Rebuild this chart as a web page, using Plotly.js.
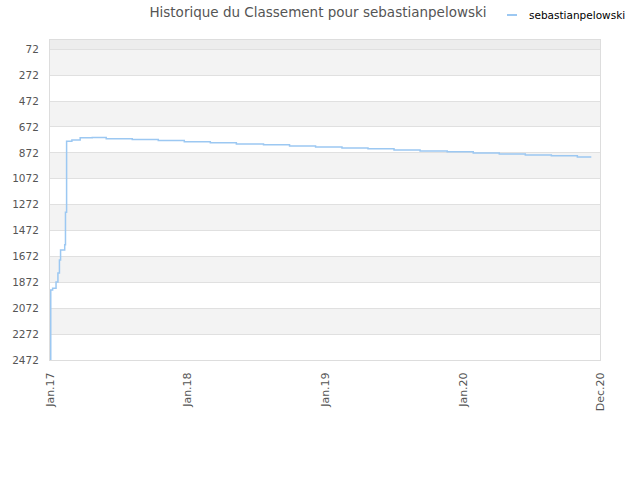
<!DOCTYPE html>
<html>
<head>
<meta charset="utf-8">
<script src="https://cdn.plot.ly/plotly-3.0.1.min.js"></script>
<style>html,body{margin:0;padding:0;background:#fff;}#chart{width:640px;height:480px;}</style>
</head>
<body>
<div id="chart"></div>
<script>
const playerName = "sebastianpelowski";
const chartTitle = "Historique du Classement pour sebastianpelowski";

const rankDates = [
  "2017-01-01","2017-01-03","2017-01-08","2017-01-17","2017-01-22","2017-01-26",
  "2017-01-29","2017-02-09","2017-02-11","2017-02-14","2017-02-28","2017-03-22",
  "2017-04-23","2017-05-30","2017-08-07","2017-10-15","2017-12-23","2018-03-02",
  "2018-05-10","2018-07-21","2018-09-28","2018-12-06","2019-02-14","2019-04-24",
  "2019-07-02","2019-09-09","2019-11-20","2020-01-28","2020-04-06","2020-06-14",
  "2020-08-22","2020-10-30","2020-12-06"
];
const rankValues = [
  2472, 1932, 1918, 1870, 1800, 1700,
  1622, 1582, 1330, 782, 772, 756,
  753, 763, 769, 776, 786, 793,
  803, 810, 818, 826, 834, 841,
  849, 857, 864, 872, 880, 888,
  895, 903, 903
];

const yTickVals = [72, 272, 472, 672, 872, 1072, 1272, 1472, 1672, 1872, 2072, 2272, 2472];
const xTickVals = ["2017-01-01", "2018-01-01", "2019-01-01", "2020-01-01", "2020-12-29"];
const xTickText = ["Jan.17", "Jan.18", "Jan.19", "Jan.20", "Dec.20"];

const lineColor = "#9CC8F2";
const fontFam = "DejaVu Sans, Verdana, sans-serif";

// alternating bands
const shapes = [];
shapes.push({type:"rect", xref:"paper", yref:"y", x0:0, x1:1, y0:0, y1:yTickVals[0],
  fillcolor:"#EDEDED", line:{width:0}, layer:"below"});
for (let i = 0; i < yTickVals.length - 1; i += 2) {
  shapes.push({type:"rect", xref:"paper", yref:"y", x0:0, x1:1,
    y0:yTickVals[i], y1:yTickVals[i+1], fillcolor:"#F3F3F3", line:{width:0}, layer:"below"});
}
// legend sample line
shapes.push({type:"line", xref:"paper", yref:"paper", x0:(507-50)/550, x1:(517-50)/550,
  y0:(360-15)/320, y1:(360-15)/320, line:{color:lineColor, width:2}});

const trace = {
  x: rankDates,
  y: rankValues,
  type: "scatter",
  mode: "lines",
  line: {shape: "hv", color: lineColor, width: 1.5},
  name: playerName,
  hoverinfo: "x+y"
};

const layout = {
  width: 640, height: 480,
  margin: {l: 50, r: 40, t: 40, b: 120},
  paper_bgcolor: "#fff",
  plot_bgcolor: "#fff",
  showlegend: false,
  title: {text: chartTitle, x: 318/640, xanchor: "center", y: 1 - 12/480, yanchor: "middle",
    font: {family: fontFam, size: 13.5, color: "#555"}},
  xaxis: {
    type: "date",
    range: ["2017-01-01", "2020-12-29"],
    tickvals: xTickVals, ticktext: xTickText,
    tickangle: -90,
    showgrid: false, zeroline: false,
    showline: true, mirror: true, linecolor: "#DDDDDD", linewidth: 1,
    ticks: "", ticklen: 0,
    ticklabelstandoff: 7,
    tickfont: {family: fontFam, size: 11, color: "#555"}
  },
  yaxis: {
    range: [2472, 0],
    tickvals: yTickVals,
    showgrid: true, gridcolor: "#E0E0E0", gridwidth: 1,
    zeroline: false,
    showline: true, mirror: true, linecolor: "#DDDDDD", linewidth: 1,
    ticks: "", ticklen: 0,
    ticklabelstandoff: 8,
    tickfont: {family: fontFam, size: 10.5, color: "#555"}
  },
  shapes: shapes,
  annotations: [{
    xref: "paper", yref: "paper", x: (527-50)/550, y: (360-15)/320,
    xanchor: "left", yanchor: "middle", showarrow: false,
    text: playerName, font: {family: fontFam, size: 10.5, color: "#000"}
  }]
};

Plotly.newPlot("chart", [trace], layout, {staticPlot: true, displayModeBar: false});
</script>
</body>
</html>
